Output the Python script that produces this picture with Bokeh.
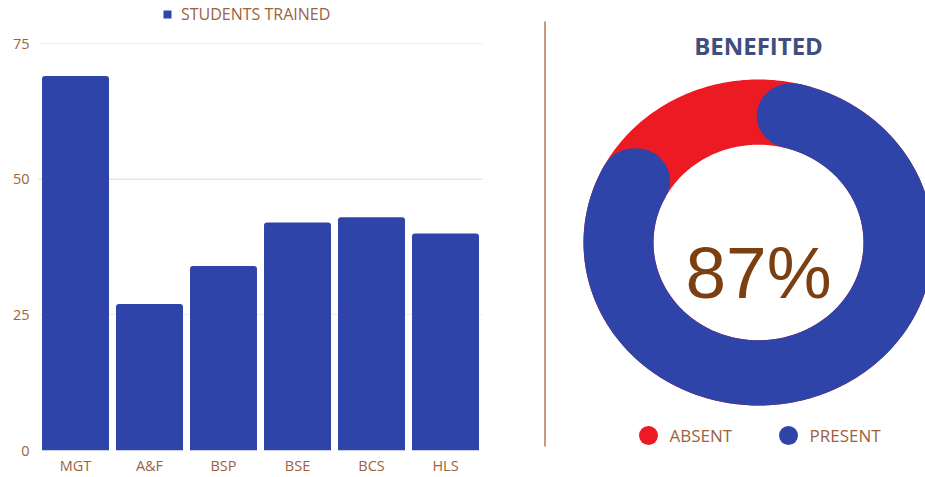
import numpy as np
from bokeh.plotting import figure
from bokeh.layouts import row
from bokeh.models import (ColumnDataSource, FactorRange, Range1d, FixedTicker,
                          Legend, LegendItem, Span)
from bokeh.core.properties import value
from bokeh.embed import file_html
from bokeh.resources import INLINE

# ---------------- data ----------------
categories = ["MGT", "A&F", "BSP", "BSE", "BCS", "HLS"]
students_trained = [69, 27, 34, 42, 43, 40]
y_ticks = [0, 25, 50, 75]
series_label = "STUDENTS TRAINED"

donut_title = "BENEFITED"
donut_labels = ["ABSENT", "PRESENT"]
donut_values = [13, 87]
center_text = "87%"

# ---------------- styles ----------------
BLUE = "#2e44a8"
RED = "#ec1a22"
BROWN = "#9c6240"
FONT = "Open Sans"

# ---------------- left: bar chart ----------------
H1 = 477
FRAME_BOTTOM = 27          # px below the frame (axis labels)
TOP_GAP = 43               # px between top of figure and the "75" grid line
y_max = y_ticks[-1]
y_top = y_max + TOP_GAP * y_max / (H1 - FRAME_BOTTOM - TOP_GAP)

p = figure(x_range=FactorRange(*categories, range_padding=0),
           y_range=Range1d(0, y_top), width=540, height=H1,
           output_backend="svg", toolbar_location=None,
           min_border_left=38, min_border_right=58,
           min_border_top=0, min_border_bottom=FRAME_BOTTOM)
p.frame_align = False
p.outline_line_color = None
p.background_fill_color = "white"
p.border_fill_color = "white"

src = ColumnDataSource(dict(cat=categories, val=students_trained))
bars = p.vbar(x="cat", top="val", width=0.905, source=src,
              fill_color=BLUE, line_color=None,
              border_radius=(3, 3, 0, 0))

p.xgrid.grid_line_color = None
p.ygrid.grid_line_color = "#f4ecea"
p.ygrid.grid_line_width = 1
p.yaxis.ticker = FixedTicker(ticks=y_ticks)
p.add_layout(Span(location=y_ticks[2], dimension="width", level="underlay",
                  line_color="#eedad2", line_width=1), "center")

for ax in (p.xaxis[0], p.yaxis[0]):
    ax.axis_line_color = None
    ax.major_tick_line_color = None
    ax.minor_tick_line_color = None
    ax.major_tick_out = 0
    ax.major_tick_in = 0
    ax.minor_tick_out = 0
    ax.axis_label_standoff = 0
    ax.major_label_text_color = BROWN
    ax.major_label_text_font = FONT
    ax.major_label_text_font_size = "14.5px"
p.yaxis.major_label_standoff = 9
p.xaxis.major_label_standoff = 5

legend = Legend(items=[LegendItem(label=series_label, renderers=[bars])],
                location=(124, H1 - FRAME_BOTTOM - 25), orientation="horizontal",
                padding=0, margin=0, spacing=0,
                glyph_width=10, glyph_height=10, label_height=18,
                label_standoff=9, label_text_font=FONT,
                label_text_font_size="16px", label_text_color=BROWN,
                border_line_color=None, background_fill_alpha=0)
p.add_layout(legend, "center")

# ---------------- right: donut ----------------
RX, RY = 175.0, 163.0     # px per data unit
CX, CY = 218.0, 242.0     # donut centre in panel px (from left / top)
W2, H2 = 385, 477
q = figure(width=W2, height=H2, output_backend="svg", toolbar_location=None,
           x_range=Range1d(-CX / RX, (W2 - CX) / RX),
           y_range=Range1d(-(H2 - CY) / RY, CY / RY),
           min_border=0)
q.frame_align = False
q.axis.visible = False
q.grid.visible = False
q.outline_line_color = None
q.background_fill_color = "white"
q.border_fill_color = "white"

R_OUT, R_IN = 1.0, 0.6
R_MID = (R_OUT + R_IN) / 2
CAP = (R_OUT - R_IN) / 2
GAP_CENTER = np.deg2rad(114.0)

total = float(sum(donut_values))
absent_frac = donut_values[0] / total
present_frac = donut_values[1] / total

# full ring (absent colour) behind
t = np.linspace(0, 2 * np.pi, 361)
ring_x = list(np.concatenate([R_OUT * np.cos(t), R_IN * np.cos(t[::-1])]))
ring_y = list(np.concatenate([R_OUT * np.sin(t), R_IN * np.sin(t[::-1])]))
q.patch(ring_x, ring_y, fill_color=RED, line_color=None)

# present arc with rounded caps
cap_ang = CAP / R_MID
arc_len = present_frac * 2 * np.pi - 2 * cap_ang
a_start = GAP_CENTER + (absent_frac * 2 * np.pi + 2 * cap_ang) / 2
a_end = a_start + arc_len
ta = np.linspace(a_start, a_end, 300)
arc_x = list(np.concatenate([R_OUT * np.cos(ta), R_IN * np.cos(ta[::-1])]))
arc_y = list(np.concatenate([R_OUT * np.sin(ta), R_IN * np.sin(ta[::-1])]))
q.patch(arc_x, arc_y, fill_color=BLUE, line_color=None)
q.ellipse(x=[R_MID * np.cos(a_start), R_MID * np.cos(a_end)],
          y=[R_MID * np.sin(a_start), R_MID * np.sin(a_end)],
          width=2 * CAP, height=2 * CAP, fill_color=BLUE, line_color=None)

# centre text
q.text(x=[0], y=[(CY - 272) / RY], text=[center_text], text_align="center",
       text_baseline="alphabetic", text_font=value("Liberation Sans"),
       text_font_size="73px", text_color="#7b3f12")

# title
q.text(x=[0], y=[(CY - 45) / RY], text=[donut_title], text_align="center",
       text_baseline="middle", text_font=value(FONT), text_font_style="bold",
       text_font_size="24px", text_color="#404e7e")

# legend (circles + labels)
lx = [(648 - 540 - CX) / RX, (788 - 540 - CX) / RX]
ly = (CY - 435) / RY
q.scatter(x=lx, y=[ly, ly], size=19, marker="circle",
          fill_color=[RED, BLUE], line_color=None)
q.text(x=[(669 - 540 - CX) / RX, (809 - 540 - CX) / RX], y=[ly, ly],
       text=donut_labels, text_align="left", text_baseline="middle",
       text_font=value(FONT), text_font_size="17px", text_color=BROWN)

# divider
dx = (4.5 - CX) / RX
q.segment(x0=[dx], y0=[(CY - 21) / RY], x1=[dx], y1=[(CY - 446) / RY],
          line_color="#c49a82", line_width=2)

layout = row(p, q, spacing=0)
open("out.html", "w").write(file_html(layout, INLINE))
